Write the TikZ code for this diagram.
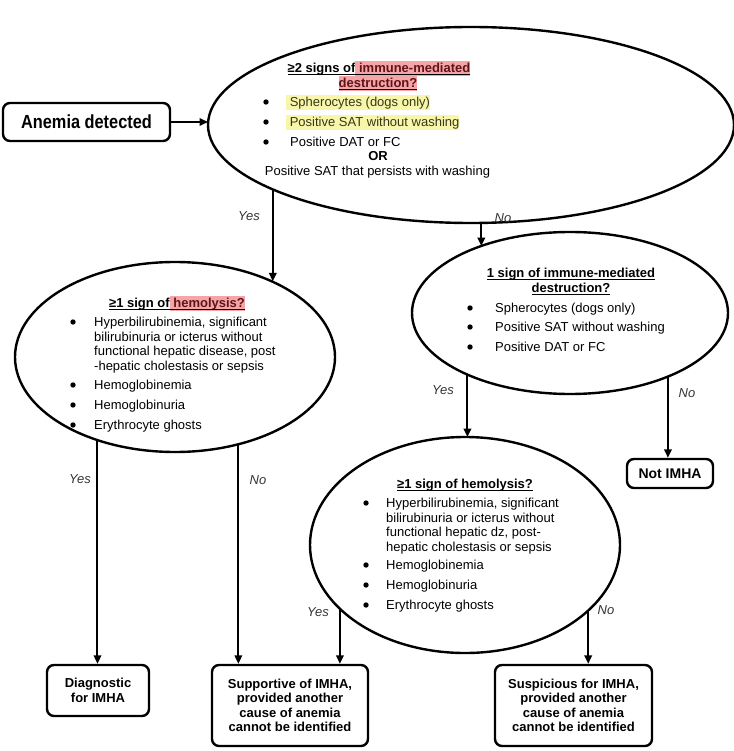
\documentclass[tikz,border=0pt]{standalone}
\usepackage{fontspec}
\setmainfont{Liberation Sans}
\newfontfamily\condensed[FakeStretch=0.86]{Liberation Sans}
\usetikzlibrary{shapes.geometric,arrows.meta}

\definecolor{hlpink}{RGB}{245,165,168}
\definecolor{hltxtred}{RGB}{95,20,25}
\definecolor{hlyellow}{RGB}{248,246,170}
\definecolor{hltxtolive}{RGB}{55,55,25}

% underline with a fixed rule thickness
\newcommand\ulb[1]{\setbox0\hbox{#1}\copy0\llap{\rule[-2.6pt]{\wd0}{1.1pt}}}
% highlighted words
\newcommand\pinkhl[1]{{\fboxsep=0pt\colorbox{hlpink}{\color{hltxtred}\rule[-3.5pt]{0pt}{15pt}#1}}}
\newcommand\yelhl[1]{{\fboxsep=0pt\colorbox{hlyellow}{\color{hltxtolive}\rule[-4pt]{0pt}{15pt}#1}}}

\tikzset{
  oval/.style={draw, ellipse, line width=2.4pt, inner sep=0pt, outer sep=0pt},
  outcome/.style={draw, rounded corners=7pt, line width=2.4pt, inner sep=0pt,
    align=center, font=\fontsize{13}{14.5}\selectfont\bfseries},
  head/.style={inner sep=0pt, anchor=base, font=\fontsize{13}{15}\selectfont\bfseries},
  item/.style={inner sep=0pt, anchor=base west, font=\fontsize{13}{14.4}\selectfont},
  block/.style={inner sep=0pt, anchor=north west, align=left, font=\fontsize{13}{14.4}\selectfont},
  dot/.style={circle, fill, inner sep=0pt, minimum size=5.4pt},
  ans/.style={inner sep=0pt, font=\fontsize{13}{14}\selectfont\itshape, text=black!80},
  arr/.style={line width=2pt, -{Triangle[length=8.5pt,width=7.5pt]}},
}

\begin{document}
\begin{tikzpicture}[x=1pt,y=-1pt]
\useasboundingbox (0,0) rectangle (733,751);

% decision ovals
\node[oval, minimum width=526pt, minimum height=196pt] (E1) at (471,125) {};
\node[oval, minimum width=320pt, minimum height=190pt] (E2) at (175,357) {};
\node[oval, minimum width=316pt, minimum height=162pt] (E3) at (570,313) {};
\node[oval, minimum width=310pt, minimum height=216pt] (E4) at (465,545) {};

% outcome boxes
\node[outcome, minimum width=167pt, minimum height=38pt,
      font=\condensed\bfseries\fontsize{19}{20}\selectfont] (anemia) at (86.5,122) {Anemia detected};
\node[outcome, minimum width=86pt, minimum height=29pt,
      font=\fontsize{14}{15}\selectfont\bfseries] (notimha) at (670,473.5) {Not IMHA};
\node[outcome, minimum width=102pt, minimum height=51pt] (diag) at (98,690.5) {Diagnostic\\for IMHA};
\node[outcome, minimum width=156pt, minimum height=81pt] (supp) at (290,705.5)
  {Supportive of IMHA,\\provided another\\cause of anemia\\cannot be identified};
\node[outcome, minimum width=157pt, minimum height=81pt] (susp) at (573.5,705.5)
  {Suspicious for IMHA,\\provided another\\cause of anemia\\cannot be identified};

% first question
\node[head] (q1a) at (379,72.5) {\ulb{≥2 signs of\pinkhl{ immune-mediated}}};
\node[head] (q1b) at (378,87.5) {\ulb{\pinkhl{destruction?}}};
\node[dot] (b1a) at (266,102) {};
\node[dot] (b1b) at (266,122) {};
\node[dot] (b1c) at (266,142) {};
\node[item] (i1a) at (286,106.5) {\yelhl{ Spherocytes (dogs only)}};
\node[item] (i1b) at (286,126.5) {\yelhl{ Positive SAT without washing}};
\node[item] (i1c) at (290,146.5) {Positive DAT or FC};
\node[head] (or1) at (378,160.5) {OR};
\node[item, anchor=base] (i1d) at (377.5,175.5) {Positive SAT that persists with washing};

% hemolysis question, left
\node[head] (q2) at (177,307.5) {\ulb{≥1 sign of\pinkhl{ hemolysis?}}};
\node[dot] (b2a) at (73,322) {};
\node[dot] (b2b) at (73,385) {};
\node[dot] (b2c) at (73,405) {};
\node[dot] (b2d) at (73,425) {};
\node[block] (i2a) at (94,317.2) {Hyperbilirubinemia, significant\\bilirubinuria or icterus without\\functional hepatic disease, post\\-hepatic cholestasis or sepsis};
\node[item] (i2b) at (94,389.5) {Hemoglobinemia};
\node[item] (i2c) at (94,409.5) {Hemoglobinuria};
\node[item] (i2d) at (94,429.5) {Erythrocyte ghosts};

% single sign question
\node[head] (q3a) at (571,277.5) {\ulb{1 sign of immune-mediated}};
\node[head] (q3b) at (571,292.5) {\ulb{destruction?}};
\node[dot] (b3a) at (470,308) {};
\node[dot] (b3b) at (470,327) {};
\node[dot] (b3c) at (470,347) {};
\node[item] (i3a) at (495,312.5) {Spherocytes (dogs only)};
\node[item] (i3b) at (495,331.5) {Positive SAT without washing};
\node[item] (i3c) at (495,351.5) {Positive DAT or FC};

% hemolysis question, lower
\node[head] (q4) at (465,488.5) {\ulb{≥1 sign of hemolysis?}};
\node[dot] (b4a) at (366,503) {};
\node[dot] (b4b) at (366,565) {};
\node[dot] (b4c) at (366,585) {};
\node[dot] (b4d) at (366,605) {};
\node[block] (i4a) at (386,498.2) {Hyperbilirubinemia, significant\\bilirubinuria or icterus without\\functional hepatic dz, post-\\hepatic cholestasis or sepsis};
\node[item] (i4b) at (386,569.5) {Hemoglobinemia};
\node[item] (i4c) at (386,589.5) {Hemoglobinuria};
\node[item] (i4d) at (386,609.5) {Erythrocyte ghosts};

% connectors
\draw[arr] (anemia.east) -- (anemia.east -| E1.west);
\draw[arr] (E1.198) -- (E1.198 |- E2.38);
\draw[arr] (E1.276) -- (E1.276 |- E3.143);
\draw[arr] (E3.211) -- (E3.211 |- E4.88);
\draw[arr] (E3.327) -- (E3.327 |- notimha.north);
\draw[arr] (E2.227) -- (E2.227 |- diag.north);
\draw[arr] (E2.306) -- (E2.306 |- supp.north);
\draw[arr] (E4.207) -- (E4.207 |- supp.north);
\draw[arr] (E4.332) -- (E4.332 |- susp.north);

% answer labels
\node[ans] (y1) at (249,216) {Yes};
\node[ans] (n1) at (503,218) {No};
\node[ans] (y3) at (443,390) {Yes};
\node[ans] (n3) at (687,393) {No};
\node[ans] (y2) at (80,479) {Yes};
\node[ans] (n2) at (258,480) {No};
\node[ans] (y4) at (318,612) {Yes};
\node[ans] (n4) at (606,610) {No};
\end{tikzpicture}
\end{document}
